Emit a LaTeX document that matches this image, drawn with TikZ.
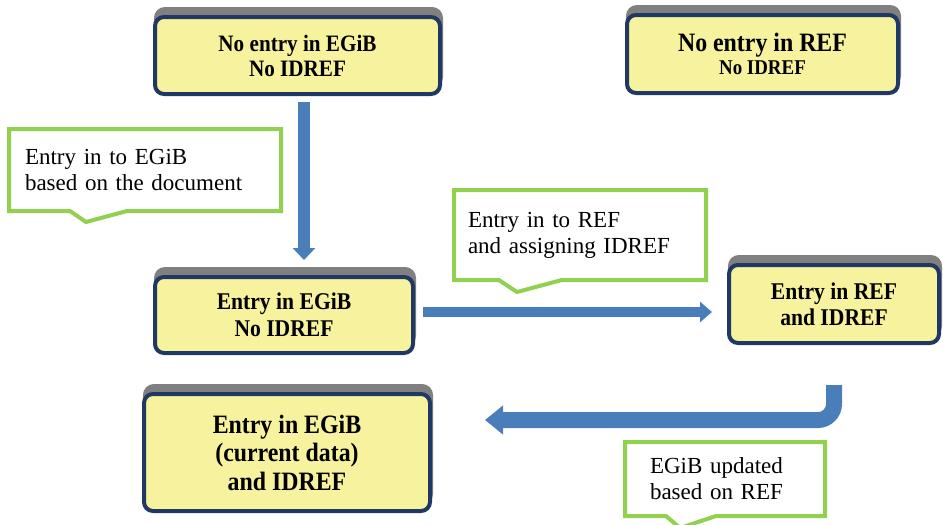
\documentclass[tikz,border=0pt]{standalone}
\usepackage{fontspec}
\setmainfont{Liberation Serif}
\newfontfamily\stagefont[FakeStretch=0.9]{Liberation Serif}
\usetikzlibrary{arrows.meta,shapes.callouts,shadows}
\definecolor{stagefill}{RGB}{247,242,157}
\definecolor{stageline}{RGB}{31,56,100}
\definecolor{stageshade}{RGB}{128,128,128}
\definecolor{notegreen}{RGB}{146,208,80}
\definecolor{flowblue}{RGB}{74,126,187}

\begin{document}
\begin{tikzpicture}[x=1pt, y=-1pt,
	stage/.style={draw=stageline, line width=4pt, fill=stagefill, rounded corners=9pt, inner sep=0pt, align=center,
		general shadow={fill=stageshade, draw=stageshade, shadow xshift=1pt, shadow yshift=8pt}},
	note/.style={rectangle callout, draw=notegreen, line width=4pt, fill=white, align=left, inner ysep=0pt,
		font=\fontsize{23}{26}\selectfont},
	flow/.style={draw=flowblue, line cap=butt}]
	\useasboundingbox (0,0) rectangle (943,525);
	\node[stage, minimum width=285pt, minimum height=77pt, font=\stagefont\bfseries\fontsize{23.5}{25}\selectfont](A) at (297.5, 55.5){No entry in EGiB\\No IDREF};
	\node[stage, minimum width=271pt, minimum height=78pt, font=\stagefont\bfseries\fontsize{26.5}{23}\selectfont](B) at (762.5, 54){No entry in REF\\{\fontsize{21}{23}\selectfont No IDREF}};
	\node[stage, minimum width=258pt, minimum height=76pt, font=\stagefont\bfseries\fontsize{24}{27}\selectfont](C) at (284, 315){Entry in EGiB\\No IDREF};
	\node[stage, minimum width=210pt, minimum height=78pt, font=\stagefont\bfseries\fontsize{24}{26}\selectfont](D) at (834, 304){Entry in REF\\and IDREF};
	\node[stage, minimum width=286pt, minimum height=117pt, font=\stagefont\bfseries\fontsize{26.5}{28.5}\selectfont](E) at (287, 452.5){Entry in EGiB\\(current data)\\and IDREF};
	\node[note, text width=240pt, inner xsep=16pt, minimum height=82pt, callout absolute pointer={(86,222)}, callout pointer width=57pt](P) at (145, 170){Entry in to EGiB\\based on the document};
	\node[note, text width=224pt, inner xsep=14pt, minimum height=90pt, callout absolute pointer={(517,292)}, callout pointer width=63pt](Q) at (580, 235){Entry in to REF\\and assigning IDREF};
	\node[note, text width=150pt, inner xsep=25pt, minimum height=74pt, callout absolute pointer={(680,528)}, callout pointer width=50pt](R) at (725, 479){EGiB updated\\based on REF};
	\draw [flow, line width=12pt, -{Triangle[length=12pt, width=22pt]}] ([xshift=6.5pt, yshift=-6pt]A.south) -- ([xshift=20pt, yshift=15pt]C.north);
	\draw [flow, line width=10pt, -{Triangle[length=12pt, width=20pt]}] ([xshift=8pt, yshift=3pt]C.east) -- ([xshift=-15pt, yshift=-8pt]D.west);
	\draw [flow, line width=16pt, rounded corners=16pt, -{Triangle[length=18pt, width=28pt]}] ([yshift=-40pt]D.south) |- ([xshift=53pt, yshift=32.5pt]E.east);
\end{tikzpicture}
\end{document}
